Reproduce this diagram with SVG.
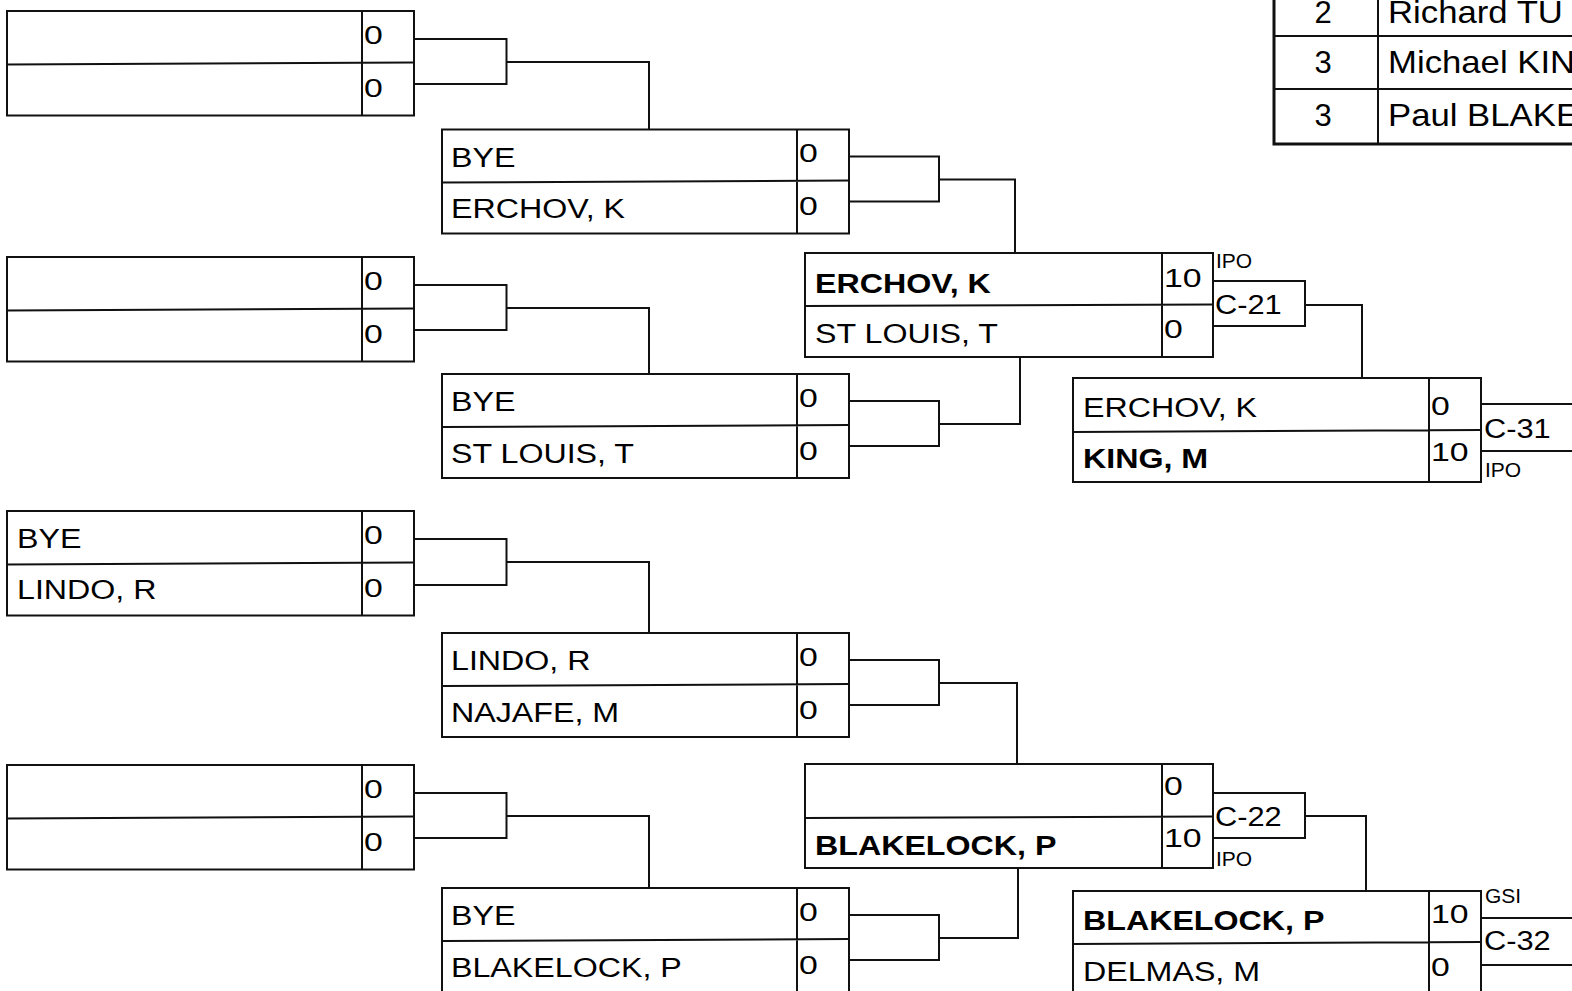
<svg xmlns="http://www.w3.org/2000/svg" width="1572" height="991" viewBox="0 0 1572 991">
<style>
.box{fill:#fff;stroke:#111;stroke-width:2}
.ln{fill:none;stroke:#111;stroke-width:2}
.tb{fill:none;stroke:#111;stroke-width:3}
text{font-family:"Liberation Sans",Arial,sans-serif;fill:#000}
.nm{font-size:28px}
.b{font-weight:bold}
.sc{font-size:26px}
.cl{font-size:28px}
.sm{font-size:20px}
.tt{font-size:31px}
</style>
<rect width="1572" height="991" fill="#fff"/>

<!-- connectors -->
<g id="connectors" class="ln">
<path d="M414,39H506.5V84H414M506.5,62H649V129.5"/>
<path d="M414,285H506.5V330H414M506.5,308H649V374"/>
<path d="M414,539H506.5V585H414M506.5,562H649V633"/>
<path d="M414,793H506.5V838H414M506.5,816H649V888"/>
<path d="M849,156.5H939V201.5H849M939,179.5H1015V253"/>
<path d="M849,401H939V446H849M939,424H1020V357"/>
<path d="M849,660H939V705H849M939,683H1017V764"/>
<path d="M849,915H939V960H849M939,938H1018V869"/>
<path d="M1305,305H1362V378"/>
<path d="M1305,816H1366V891"/>
<path d="M1481,404H1572M1481,451H1572"/>
<path d="M1481,918H1572M1481,965H1572"/>
</g>

<!-- table -->
<g id="table">
<rect x="1274" y="-20" width="310" height="164" fill="#fff" class="tb"/>
<path class="ln" d="M1378,-20V144M1274,36H1572M1274,89H1572"/>
<text class="tt" x="1323" y="23" text-anchor="middle">2</text>
<text class="tt" x="1323" y="73" text-anchor="middle">3</text>
<text class="tt" x="1323" y="126" text-anchor="middle">3</text>
<text class="tt" transform="translate(1388,23) scale(1.12,1)">Richard TU</text>
<text class="tt" transform="translate(1388,73) scale(1.12,1)">Michael KIN</text>
<text class="tt" transform="translate(1388,126) scale(1.12,1)">Paul BLAKE</text>
</g>

<!-- column 1 -->
<g id="m1">
<rect class="box" x="7" y="11" width="407" height="104.5"/>
<path class="ln" d="M7,64.5L414,62.5M362,11V115.5"/>
<text class="sc" transform="translate(364,44) scale(1.3,1)">0</text>
<text class="sc" transform="translate(364,97) scale(1.3,1)">0</text>
</g>
<g id="m2">
<rect class="box" x="7" y="257" width="407" height="104.5"/>
<path class="ln" d="M7,310.5L414,308.5M362,257V361.5"/>
<text class="sc" transform="translate(364,290) scale(1.3,1)">0</text>
<text class="sc" transform="translate(364,343) scale(1.3,1)">0</text>
</g>
<g id="m3">
<rect class="box" x="7" y="511" width="407" height="104.5"/>
<path class="ln" d="M7,564.5L414,562.5M362,511V615.5"/>
<text class="nm" transform="translate(17,548) scale(1.15,1)">BYE</text>
<text class="nm" transform="translate(17,599) scale(1.15,1)">LINDO, R</text>
<text class="sc" transform="translate(364,544) scale(1.3,1)">0</text>
<text class="sc" transform="translate(364,597) scale(1.3,1)">0</text>
</g>
<g id="m4">
<rect class="box" x="7" y="765" width="407" height="104.5"/>
<path class="ln" d="M7,818.5L414,816.5M362,765V869.5"/>
<text class="sc" transform="translate(364,798) scale(1.3,1)">0</text>
<text class="sc" transform="translate(364,851) scale(1.3,1)">0</text>
</g>

<!-- column 2 -->
<g id="m5">
<rect class="box" x="442" y="129.5" width="407" height="104"/>
<path class="ln" d="M442,182.5L849,180.5M797,129.5V233.5"/>
<text class="nm" transform="translate(451,167) scale(1.15,1)">BYE</text>
<text class="nm" transform="translate(451,218) scale(1.15,1)">ERCHOV, K</text>
<text class="sc" transform="translate(799,162) scale(1.3,1)">0</text>
<text class="sc" transform="translate(799,215) scale(1.3,1)">0</text>
</g>
<g id="m6">
<rect class="box" x="442" y="374" width="407" height="104"/>
<path class="ln" d="M442,427L849,425M797,374V478"/>
<text class="nm" transform="translate(451,411) scale(1.15,1)">BYE</text>
<text class="nm" transform="translate(451,463) scale(1.15,1)">ST LOUIS, T</text>
<text class="sc" transform="translate(799,407) scale(1.3,1)">0</text>
<text class="sc" transform="translate(799,460) scale(1.3,1)">0</text>
</g>
<g id="m7">
<rect class="box" x="442" y="633" width="407" height="104"/>
<path class="ln" d="M442,686L849,684M797,633V737"/>
<text class="nm" transform="translate(451,670) scale(1.15,1)">LINDO, R</text>
<text class="nm" transform="translate(451,722) scale(1.15,1)">NAJAFE, M</text>
<text class="sc" transform="translate(799,666) scale(1.3,1)">0</text>
<text class="sc" transform="translate(799,719) scale(1.3,1)">0</text>
</g>
<g id="m8">
<rect class="box" x="442" y="888" width="407" height="104"/>
<path class="ln" d="M442,941L849,939M797,888V992"/>
<text class="nm" transform="translate(451,925) scale(1.15,1)">BYE</text>
<text class="nm" transform="translate(451,977) scale(1.15,1)">BLAKELOCK, P</text>
<text class="sc" transform="translate(799,921) scale(1.3,1)">0</text>
<text class="sc" transform="translate(799,974) scale(1.3,1)">0</text>
</g>

<!-- column 3 -->
<g id="m9">
<rect class="box" x="805" y="253" width="408" height="104"/>
<path class="ln" d="M805,306L1213,304.5M1162,253V357"/>
<text class="nm b" transform="translate(815,293) scale(1.15,1)">ERCHOV, K</text>
<text class="nm" transform="translate(815,343) scale(1.15,1)">ST LOUIS, T</text>
<text class="sc" transform="translate(1164,287) scale(1.3,1)">10</text>
<text class="sc" transform="translate(1164,338) scale(1.3,1)">0</text>
</g>
<g id="c21">
<rect class="box" x="1213" y="281" width="92" height="45"/>
<text class="cl" transform="translate(1215,314) scale(1.1,1)">C-21</text>
<text class="sm" transform="translate(1216,268) scale(1.05,1)">IPO</text>
</g>
<g id="m10">
<rect class="box" x="805" y="764" width="408" height="104"/>
<path class="ln" d="M805,818L1213,816.5M1162,764V868"/>
<text class="nm b" transform="translate(815,855) scale(1.15,1)">BLAKELOCK, P</text>
<text class="sc" transform="translate(1164,795) scale(1.3,1)">0</text>
<text class="sc" transform="translate(1164,847) scale(1.3,1)">10</text>
</g>
<g id="c22">
<rect class="box" x="1213" y="793" width="92" height="45"/>
<text class="cl" transform="translate(1215,826) scale(1.1,1)">C-22</text>
<text class="sm" transform="translate(1216,866) scale(1.05,1)">IPO</text>
</g>

<!-- column 4 -->
<g id="m11">
<rect class="box" x="1073" y="378" width="408" height="104"/>
<path class="ln" d="M1073,432L1481,430M1429,378V482"/>
<text class="nm" transform="translate(1083,417) scale(1.15,1)">ERCHOV, K</text>
<text class="nm b" transform="translate(1083,468) scale(1.15,1)">KING, M</text>
<text class="sc" transform="translate(1431,415) scale(1.3,1)">0</text>
<text class="sc" transform="translate(1431,461) scale(1.3,1)">10</text>
</g>
<g id="c31">
<text class="cl" transform="translate(1484,438) scale(1.1,1)">C-31</text>
<text class="sm" transform="translate(1485,477) scale(1.05,1)">IPO</text>
</g>
<g id="m12">
<rect class="box" x="1073" y="891" width="408" height="104"/>
<path class="ln" d="M1073,944L1481,942M1429,891V995"/>
<text class="nm b" transform="translate(1083,930) scale(1.15,1)">BLAKELOCK, P</text>
<text class="nm" transform="translate(1083,981) scale(1.15,1)">DELMAS, M</text>
<text class="sc" transform="translate(1431,923) scale(1.3,1)">10</text>
<text class="sc" transform="translate(1431,976) scale(1.3,1)">0</text>
</g>
<g id="c32">
<text class="cl" transform="translate(1484,950) scale(1.1,1)">C-32</text>
<text class="sm" transform="translate(1485,903) scale(1.05,1)">GSI</text>
</g>
</svg>
